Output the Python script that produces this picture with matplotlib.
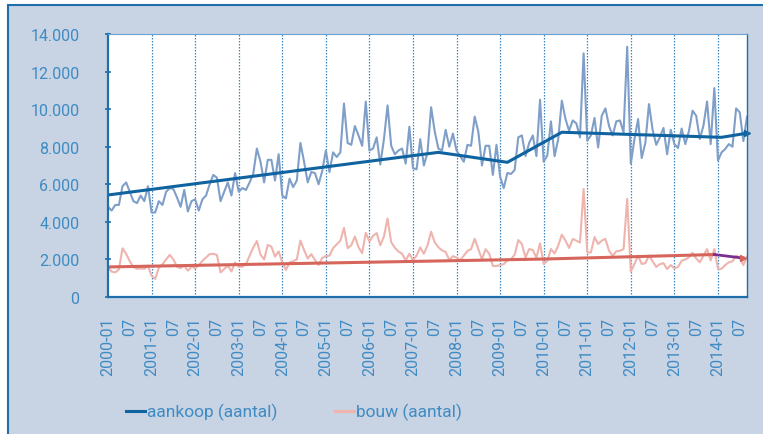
import matplotlib
matplotlib.use('Agg')
import matplotlib.pyplot as plt
from matplotlib.patches import Rectangle
from matplotlib.lines import Line2D
import numpy as np
import pandas as pd

plt.rcParams['font.family'] = ['Roboto', 'DejaVu Sans']

# ---------------- data (monthly, 2000-01 .. 2014-09) ----------------
months = pd.period_range('2000-01', periods=177, freq='M')

aankoop = [
    4800, 4600, 4900, 4900, 5900, 6100, 5600, 5100, 5000, 5400, 5100, 5900,      # 2000
    4500, 4500, 5100, 4900, 5600, 5800, 5750, 5300, 4800, 5700, 4550, 5100,      # 2001
    5200, 4600, 5200, 5400, 6000, 6500, 6350, 5100, 5600, 6100, 5400, 6600,      # 2002
    5600, 5800, 5700, 6100, 6550, 7900, 7200, 6100, 7300, 7300, 6200, 7600,      # 2003
    5400, 5250, 6300, 5850, 6200, 8200, 7200, 6100, 6650, 6600, 6000, 6700,      # 2004
    7800, 6650, 7700, 7450, 7700, 10300, 8200, 8100, 9100, 8600, 8050, 10400,    # 2005
    7800, 7900, 8500, 7050, 8400, 10200, 8050, 7600, 7800, 7900, 7100, 9060,     # 2006
    6850, 6800, 8400, 7000, 7700, 10100, 8800, 7900, 7800, 8900, 8000, 8700,     # 2007
    7800, 7500, 7200, 8100, 8050, 9600, 8800, 7000, 8050, 8050, 6500, 8100,      # 2008
    6400, 5800, 6600, 6550, 6760, 8500, 8600, 7500, 8200, 8600, 7500, 10500,     # 2009
    7200, 7540, 9350, 7500, 8400, 10450, 9480, 8850, 9400, 9240, 8500, 12970,    # 2010
    8320, 8600, 9530, 7960, 9650, 10040, 9100, 8600, 9350, 9400, 8770, 13320,    # 2011
    7100, 8400, 9470, 7400, 8200, 10270, 8900, 8100, 8500, 9000, 7600, 8900,     # 2012
    8140, 7930, 8970, 8140, 8820, 9920, 9650, 8410, 9120, 10410, 8140, 11120,    # 2013
    7260, 7700, 7880, 8140, 8000, 10040, 9830, 8300, 9600,                       # 2014
]

bouw = [
    1580, 1350, 1310, 1470, 2590, 2300, 1900, 1600, 1500, 1520, 1500, 1670,      # 2000
    1130, 960, 1560, 1740, 2000, 2240, 2000, 1610, 1540, 1670, 1400, 1610,       # 2001
    1540, 1670, 1930, 2100, 2280, 2300, 2240, 1310, 1490, 1670, 1360, 1840,      # 2002
    1610, 1610, 1750, 2190, 2630, 2980, 2260, 2000, 2770, 2680, 2150, 2430,      # 2003
    1840, 1440, 1840, 1900, 2000, 3000, 2500, 2050, 2280, 1970, 1700, 2080,      # 2004
    2170, 2200, 2600, 2800, 3000, 3680, 2600, 2750, 3220, 2650, 2330, 3420,      # 2005
    2950, 3260, 3400, 2750, 3220, 4180, 2920, 2620, 2420, 2300, 1950, 2300,      # 2006
    1970, 2200, 2640, 2300, 2750, 3480, 2900, 2650, 2480, 2400, 1980, 2170,      # 2007
    2100, 1950, 2200, 2450, 2550, 3100, 2550, 2000, 2550, 2300, 1650, 1650,      # 2008
    1700, 1750, 1950, 2020, 2240, 3030, 2820, 2100, 2550, 2500, 2100, 2860,      # 2009
    1760, 1930, 2550, 2320, 2730, 3320, 3000, 2610, 3090, 3000, 2900, 5750,      # 2010
    2370, 2370, 3190, 2820, 3000, 3090, 2460, 2190, 2430, 2460, 2550, 5220,      # 2011
    1350, 1760, 2200, 1760, 1800, 2200, 1900, 1600, 1750, 1800, 1490, 1700,      # 2012
    1520, 1600, 1930, 2000, 2110, 2350, 2050, 1850, 2200, 2550, 1950, 2550,      # 2013
    1500, 1500, 1700, 1850, 1900, 2200, 2100, 1700, 2150,                        # 2014
]

# trend lines (vertex month index, value)
aankoop_trend_idx = [0, 91, 110, 125, 169, 176]
aankoop_trend_val = [5430, 7700, 7170, 8770, 8500, 8720]
bouw_trend_idx = [0, 120, 167]
bouw_trend_val = [1600, 2020, 2260]
bouw_trend2_idx = [167, 175]
bouw_trend2_val = [2260, 2070]

legend_labels = ['aankoop (aantal)', 'bouw (aantal)']
y_ticks = [0, 2000, 4000, 6000, 8000, 10000, 12000, 14000]

# ---------------- styling ----------------
W, H = 763, 435
BG = '#c8d3e3'
FRAME = '#1f6fab'
TXT = '#3f8bc4'
C_AANKOOP = '#7f9fc9'
C_BOUW = '#eeb4ad'
C_TR_BLUE = '#0f63a0'
C_TR_RED = '#d6655c'
C_TR_PURPLE = '#7a2e8f'

fig = plt.figure(figsize=(W / 100, H / 100), dpi=100, facecolor='white')
bgrect = Rectangle((8 / W, -0.1), 1.2, (H - 6) / H + 0.1, transform=fig.transFigure,
                   facecolor=BG, edgecolor=FRAME, linewidth=1.5, zorder=-10)
fig.add_artist(bgrect)

ax = fig.add_axes([108 / W, (H - 298) / H, 639 / W, 263 / H])
ax.set_zorder(1)
ax.set_facecolor('white')

x = np.arange(len(months))

# yearly dotted grid
for i, m in zip(x, months):
    if m.month == 1 and i > 0:
        ax.axvline(i, color='#3d88c2', lw=0.9, ls=(0, (1.2, 1.2)), zorder=1)

ax.plot(x, bouw, color=C_BOUW, lw=1.5, zorder=2)
ax.plot(x, aankoop, color=C_AANKOOP, lw=1.5, zorder=3)

ax.plot(aankoop_trend_idx, aankoop_trend_val, color=C_TR_BLUE, lw=2.2, zorder=5,
        solid_capstyle='butt')
ax.plot(aankoop_trend_idx[-1], aankoop_trend_val[-1], marker='>', color=C_TR_BLUE,
        markersize=5, zorder=5, clip_on=False)
ax.plot(bouw_trend_idx, bouw_trend_val, color=C_TR_RED, lw=2.2, zorder=5)
ax.plot(bouw_trend2_idx, bouw_trend2_val, color=C_TR_PURPLE, lw=2.0, zorder=5)
ax.plot(bouw_trend2_idx[-1], bouw_trend2_val[-1], marker='>', color=C_TR_RED,
        markersize=5, zorder=5)

ax.set_xlim(0, 176)
ax.set_ylim(0, 14000)

# x ticks: every 6 months
tick_pos, tick_lab = [], []
for i, m in zip(x, months):
    if m.month == 1:
        tick_pos.append(i)
        tick_lab.append(f'{m.year}-01')
    elif m.month == 7:
        tick_pos.append(i)
        tick_lab.append('07')
ax.set_xticks(tick_pos)
ax.set_xticklabels(tick_lab, rotation=90, fontsize=11.5, color=TXT)
ax.tick_params(axis='x', length=0, pad=14)

ax.set_yticks(y_ticks)
ax.set_yticklabels([f'{v:,}'.replace(',', '.') for v in y_ticks], fontsize=11.5, color=TXT)
ax.tick_params(axis='y', direction='inout', length=5, width=1.2, color=FRAME, pad=18)

for s in ['left', 'bottom']:
    ax.spines[s].set_color(FRAME)
    ax.spines[s].set_linewidth(1.6)
ax.spines['right'].set_color(FRAME)
ax.spines['right'].set_linewidth(1.0)
ax.spines['top'].set_color('#6aa3d3')
ax.spines['top'].set_linewidth(0.8)
for s in ax.spines.values():
    s.set_zorder(6)

# legend (manual, at the bottom)
ly = (H - 412) / H
fig.add_artist(Line2D([126 / W, 145 / W], [ly, ly], color=C_TR_BLUE, lw=2.2))
fig.text(147 / W, ly, legend_labels[0], ha='left', va='center', fontsize=12.5, color=TXT)
fig.add_artist(Line2D([335 / W, 354 / W], [ly, ly], color=C_BOUW, lw=2.2))
fig.text(356 / W, ly, legend_labels[1], ha='left', va='center', fontsize=12.5, color=TXT)

fig.savefig('out.png', dpi=100, facecolor=fig.get_facecolor())
